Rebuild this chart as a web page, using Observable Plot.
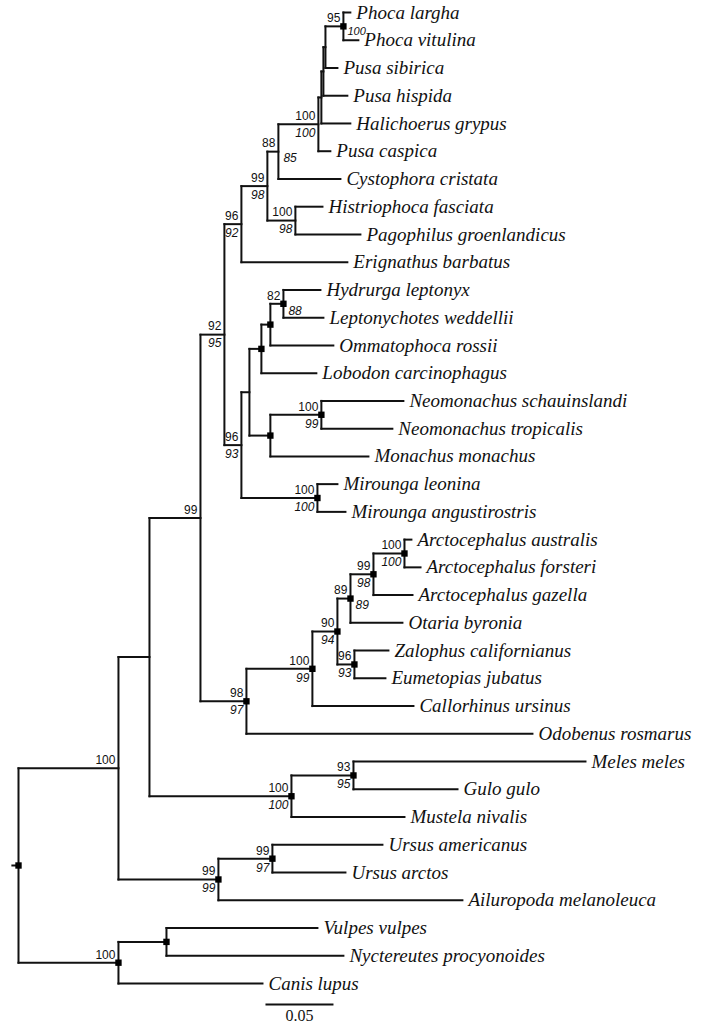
<!DOCTYPE html>
<html>
<head>
<meta charset="utf-8">
<script src="https://cdn.jsdelivr.net/npm/d3@7"></script>
<script src="https://cdn.jsdelivr.net/npm/@observablehq/plot@0.6"></script>
<style>
  html, body { margin: 0; padding: 0; background: #fff; }
  #chart svg { display: block; }
</style>
</head>
<body>
<div id="chart"></div>
<script>
// ---- Tree data (node, parent, branch length in substitutions/site) ----
const nodeNames = [
  "Caniformia","Arctoidea","Pinnipedia","Phocidae","Phocinae","P99","P88","V","W","X","Y","Phoca",
  "Phoca largha","Phoca vitulina","Pusa sibirica","Pusa hispida","Halichoerus grypus","Pusa caspica",
  "Cystophora cristata","Hist","Histriophoca fasciata","Pagophilus groenlandicus","Erignathus barbatus",
  "Monachinae","M1","Lobodontini","L2","L3","Hydrurga leptonyx","Leptonychotes weddellii",
  "Ommatophoca rossii","Lobodon carcinophagus","Monachini","Neomonachus","Neomonachus schauinslandi",
  "Neomonachus tropicalis","Monachus monachus","Mirounga","Mirounga leonina","Mirounga angustirostris",
  "Otarioidea","Otariidae","O90","O89","O99","Arcto","Arctocephalus australis","Arctocephalus forsteri",
  "Arctocephalus gazella","Otaria byronia","O96","Zalophus californianus","Eumetopias jubatus",
  "Callorhinus ursinus","Odobenus rosmarus","Mustelidae","Mus93","Meles meles","Gulo gulo",
  "Mustela nivalis","Ursidae","Ursus","Ursus americanus","Ursus arctos","Ailuropoda melanoleuca",
  "Canidae","Vulpini","Vulpes vulpes","Nyctereutes procyonoides","Canis lupus"
];
const parentNames = [
  "root","Caniformia","Arctoidea","Pinnipedia","Phocidae","Phocinae","P99","P88","V","W","X","Y",
  "Phoca","Phoca","Y","X","W","V",
  "P88","P99","Hist","Hist","Phocinae",
  "Phocidae","Monachinae","M1","Lobodontini","L2","L3","L3",
  "L2","Lobodontini","M1","Monachini","Neomonachus",
  "Neomonachus","Monachini","Monachinae","Mirounga","Mirounga",
  "Pinnipedia","Otarioidea","Otariidae","O90","O89","O99","Arcto","Arcto",
  "O99","O89","O90","O96","O96",
  "Otariidae","Otarioidea","Arctoidea","Mustelidae","Mus93","Mus93",
  "Mustelidae","Caniformia","Ursidae","Ursus","Ursus","Ursidae",
  "root","Canidae","Vulpini","Vulpini","Canidae"
];
const branchLengths = [
  0.0735,0.0228,0.0375,0.0176,0.0125,0.0191,0.0081,0.0294,0.0022,0.0015,0.0015,0.0132,
  0.0051,0.0110,0.0088,0.0176,0.0213,0.0088,
  0.0456,0.0206,0.0199,0.0478,0.0779,
  0.0125,0.0059,0.0088,0.0066,0.0096,0.0272,0.0294,
  0.0463,0.0404,0.0154,0.0375,0.0603,
  0.0522,0.0721,0.0559,0.0147,0.0206,
  0.0338,0.0485,0.0184,0.0096,0.0169,0.0228,0.0051,0.0118,
  0.0287,0.0382,0.0125,0.0250,0.0228,
  0.0743,0.2103,0.1044,0.0456,0.1706,0.0765,
  0.0831,0.0735,0.0397,0.0809,0.0537,0.1794,
  0.0735,0.0353,0.1110,0.1301,0.1059
];

// ---- Support values (upper: normal, lower: italic) ----
const supportNodes  = ["Phoca","V","P88","P99","Hist","Phocinae","Phocidae","Monachinae","L3","Neomonachus","Mirounga","Pinnipedia","Otarioidea","Otariidae","O90","O89","O99","Arcto","O96","Caniformia","Mustelidae","Mus93","Ursidae","Ursus","Canidae"];
const supportUpper  = ["95","100","88","99","100","96","92","96","82","100","100","99","98","100","90","89","99","100","96","100","100","93","99","99","100"];
const supportLower  = ["100","100","85","98","98","92","95","93","88","99","100",null,"97","99","94","89","98","100","93",null,"100","95","99","97",null];

// nodes marked with a filled square
const markedNodes = ["root","Phoca","L3","L2","Lobodontini","Monachini","Neomonachus","Mirounga","Arcto","O99","O89","O90","O96","Otariidae","Otarioidea","Mus93","Mustelidae","Ursus","Ursidae","Vulpini","Canidae"];

const scaleBarValue = 0.05;
const scaleBarLabel = "0.05";

// ---- Layout (computed from the data) ----
const children = new Map();
const lenOf = new Map();
nodeNames.forEach((n, i) => {
  lenOf.set(n, branchLengths[i]);
  const p = parentNames[i];
  if (!children.has(p)) children.set(p, []);
  children.get(p).push(n);
});
const pos = new Map();
let leafCounter = 0;
function layout(n, x) {
  const kids = children.get(n) || [];
  if (kids.length === 0) { pos.set(n, {x, y: leafCounter++, leaf: true}); return; }
  kids.forEach(k => layout(k, x + lenOf.get(k)));
  const y0 = pos.get(kids[0]).y, y1 = pos.get(kids[kids.length - 1]).y;
  pos.set(n, {x, y: (y0 + y1) / 2, y0, y1, leaf: false});
}
layout("root", 0);

const segs = [];
nodeNames.forEach((n, i) => {
  const p = pos.get(parentNames[i]), c = pos.get(n);
  segs.push({x1: p.x, y1: c.y, x2: c.x, y2: c.y});
});
for (const [n, p] of pos) if (!p.leaf) segs.push({x1: p.x, y1: p.y0, x2: p.x, y2: p.y1});
const rootP = pos.get("root");
segs.push({x1: -0.0045, y1: rootP.y, x2: 0, y2: rootP.y});

const leaves = [...pos].filter(([n, p]) => p.leaf).map(([n, p]) => ({name: n, ...p}));
const rightItalic = new Set(["Phoca","P88","L3","O89"]);
const upper = supportNodes.map((n, i) => ({...pos.get(n), t: supportUpper[i]}));
const lowerLeft = [], lowerRight = [];
supportNodes.forEach((n, i) => {
  if (supportLower[i] == null) return;
  const d = {...pos.get(n), t: supportLower[i], tight: n === "Phoca"};
  (rightItalic.has(n) ? lowerRight : lowerLeft).push(d);
});
const squares = markedNodes.map(n => pos.get(n));

const pxPerUnit = 1360, rootPx = 18, rowPx = 27.743, firstRowPx = 12;
const W = 710, H = 1024;
const barStart = 0.1816;
const serif = "'Liberation Serif', 'Times New Roman', 'DejaVu Serif', serif";
const sans = "'Liberation Sans', Arial, Helvetica, sans-serif";

const chart = Plot.plot({
  width: W, height: H,
  margin: 0,
  x: {domain: [-rootPx / pxPerUnit, (W - rootPx) / pxPerUnit], range: [0, W], axis: null},
  y: {domain: [-firstRowPx / rowPx, (H - firstRowPx) / rowPx], range: [0, H], axis: null},
  marks: [
    Plot.link(segs, {x1: "x1", y1: "y1", x2: "x2", y2: "y2", stroke: "#111", strokeWidth: 2, strokeLinecap: "square"}),
    Plot.dot(squares, {x: "x", y: "y", symbol: "square", r: 3.6, fill: "#000"}),
    Plot.text(leaves, {x: "x", y: "y", text: "name", dx: 6, textAnchor: "start", fontStyle: "italic", fontFamily: serif, fontSize: 19, fill: "#111"}),
    Plot.text(upper, {x: "x", y: "y", text: "t", dx: -3, dy: -8, textAnchor: "end", fontFamily: sans, fontSize: 12, fill: "#111"}),
    Plot.text(lowerLeft, {x: "x", y: "y", text: "t", dx: -3, dy: 9, textAnchor: "end", fontStyle: "italic", fontFamily: sans, fontSize: 12, fill: "#111"}),
    Plot.text(lowerRight.filter(d => !d.tight), {x: "x", y: "y", text: "t", dx: 5, dy: 7, textAnchor: "start", fontStyle: "italic", fontFamily: sans, fontSize: 12, fill: "#111"}),
    Plot.text(lowerRight.filter(d => d.tight), {x: "x", y: "y", text: "t", dx: 4, dy: 5, textAnchor: "start", fontStyle: "italic", fontFamily: sans, fontSize: 11, fill: "#111"}),
    Plot.link([{x1: barStart, x2: barStart + scaleBarValue, y: 35.76}], {x1: "x1", x2: "x2", y1: "y", y2: "y", stroke: "#111", strokeWidth: 2}),
    Plot.text([{x: barStart + scaleBarValue / 2, y: 36.15, t: scaleBarLabel}], {x: "x", y: "y", text: "t", fontFamily: serif, fontSize: 16, fill: "#111"})
  ]
});
document.getElementById("chart").appendChild(chart);
</script>
</body>
</html>
